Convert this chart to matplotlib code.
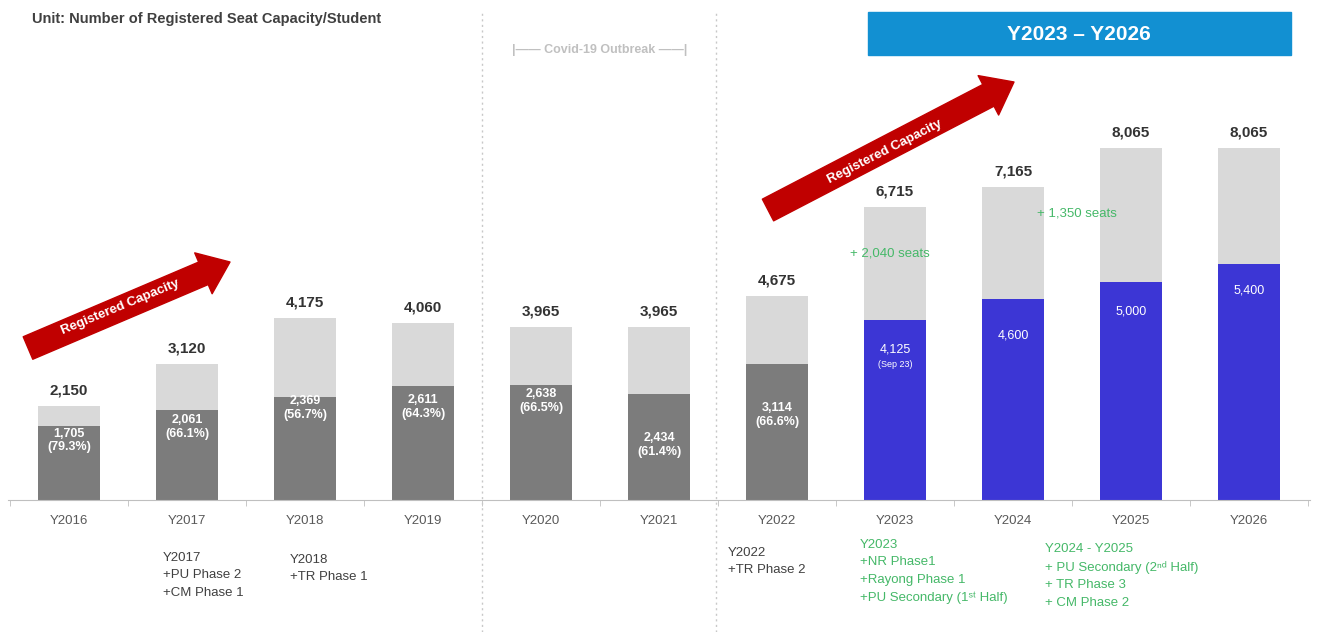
import numpy as np
import matplotlib.pyplot as plt
from matplotlib.patches import Rectangle

plt.rcParams['font.family'] = ['Liberation Sans', 'DejaVu Sans']

# data
years = ['Y2016', 'Y2017', 'Y2018', 'Y2019', 'Y2020', 'Y2021',
         'Y2022', 'Y2023', 'Y2024', 'Y2025', 'Y2026']
capacity = [2150, 3120, 4175, 4060, 3965, 3965, 4675, 6715, 7165, 8065, 8065]
students = [1705, 2061, 2369, 2611, 2638, 2434, 3114, 4125, 4600, 5000, 5400]
inner_labels = ['1,705\n(79.3%)', '2,061\n(66.1%)', '2,369\n(56.7%)', '2,611\n(64.3%)',
                '2,638\n(66.5%)', '2,434\n(61.4%)', '3,114\n(66.6%)', '4,125',
                '4,600', '5,000', '5,400']
n_actual = 7  # first 7 bars are actual (gray), rest are plan (blue)

notes_gray = [(1, 'Y2017\n+PU Phase 2\n+CM Phase 1'),
              (2, 'Y2018\n+TR Phase 1'),
              (6, 'Y2022\n+TR Phase 2')]
notes_green = [(7, 'Y2023\n+NR Phase1\n+Rayong Phase 1\n+PU Secondary (1\u02e2\u1d57 Half)'),
               (8, 'Y2024 - Y2025\n+ PU Secondary (2\u207f\u1d48 Half)\n+ TR Phase 3\n+ CM Phase 2')]
seat_adds = [(7, '+ 2,040 seats'), (8, '+ 1,350 seats')]

# layout (pixel offsets of inner labels below the top of dark segment)
label_drop = [15, 17, 11, 21, 16, 51, 51, 30, 36, 30, 26]
note_x = [163, 290, 728, 860, 1045]
note_y = [560, 562, 555, 547, 551]

LIGHT = '#d9d9d9'
DARK = '#7c7c7c'
BLUE = '#3c36d5'
GREEN = '#45b868'
RED = '#c00000'

W, H = 1317, 632
fig = plt.figure(figsize=(W / 100, H / 100), dpi=100)
ax = fig.add_axes([8 / W, (H - 500) / H, (1310 - 8) / W, 500 / H])
px_per_unit = 352 / 8065
ax.set_ylim(0, 500 / px_per_unit)
ax.set_xlim(-0.517, 10.517)

x = np.arange(len(years))
colors = [DARK] * n_actual + [BLUE] * (len(years) - n_actual)
ax.bar(x, capacity, width=0.525, color=LIGHT, zorder=1)
ax.bar(x, students, width=0.525, color=colors, zorder=2)

for i in range(len(years)):
    ax.annotate(f'{capacity[i]:,}', (x[i], capacity[i]), xytext=(0, 6),
                textcoords='offset points', ha='center', va='bottom',
                fontsize=11, fontweight='bold', color='#333333')
    ax.annotate(inner_labels[i], (x[i], students[i]), xytext=(0, -label_drop[i] * 0.72),
                textcoords='offset points', ha='center', va='center',
                fontsize=9, fontweight='bold' if i < n_actual else 'normal',
                color='white', linespacing=1.2)
ax.annotate('(Sep 23)', (x[7], students[7]), xytext=(0, -45 * 0.72),
            textcoords='offset points', ha='center', va='center',
            fontsize=6.5, color='white')

for spine in ['top', 'right', 'left']:
    ax.spines[spine].set_visible(False)
ax.spines['bottom'].set_color('#bfbfbf')
ax.set_yticks([])
ax.set_xticks(x)
ax.set_xticklabels(years, fontsize=9.5, color='#595959')
ax.tick_params(axis='x', which='major', length=0, pad=11)
ax.set_xticks(np.arange(-0.5, 10.6, 1), minor=True)
ax.tick_params(axis='x', which='minor', length=4, color='#bfbfbf')

# separators
for sx in [482, 716]:
    fig.add_artist(plt.Line2D([sx / W, sx / W], [0, 1 - 10 / H], color='#c8c8c8',
                              lw=1, ls=(0, (1.5, 2.5))))

# notes under the axis
for k, (i, txt) in enumerate(notes_gray + notes_green):
    c = '#404040' if k < len(notes_gray) else GREEN
    fig.text(note_x[k] / W, 1 - (note_y[k] - 8) / H, txt, ha='left', va='top',
             fontsize=9.5, color=c, linespacing=1.6)

# seat additions
for (i, txt), (px, py) in zip(seat_adds, [(850, 253), (1037, 214)]):
    fig.text(px / W, 1 - py / H, txt, ha='left', va='center', fontsize=9.5, color=GREEN)

# title and covid note
fig.text(32 / W, 1 - 19 / H, 'Unit: Number of Registered Seat Capacity/Student',
         ha='left', va='center', fontsize=10.5, fontweight='bold', color='#404040')
fig.text(600 / W, 1 - 50 / H, '|\u2014\u2014 Covid-19 Outbreak \u2014\u2014|', ha='center',
         va='center', fontsize=9, fontweight='bold', color='#c0c0c0')

# banner
fig.add_artist(Rectangle((868 / W, 1 - 55 / H), (1291 - 868) / W, 43 / H,
                         transform=fig.transFigure, color='#1290d2'))
fig.text(1079 / W, 1 - 34 / H, 'Y2023 \u2013 Y2026', ha='center', va='center',
         fontsize=15, fontweight='bold', color='white')

# red arrows
for tail, tip, mid, rot in [((28, 348), (230, 262), (120, 307), 22.5),
                            ((768, 210), (1014, 82), (885, 152), 27)]:
    ax.annotate('', xy=(tip[0], H - tip[1]), xytext=(tail[0], H - tail[1]),
                xycoords='figure pixels', textcoords='figure pixels',
                arrowprops=dict(arrowstyle='simple,head_length=1.3,head_width=2.0,tail_width=1.1',
                                color=RED, mutation_scale=16, shrinkA=0, shrinkB=0))
    fig.text(mid[0] / W, 1 - mid[1] / H, 'Registered Capacity', ha='center', va='center',
             rotation=rot, rotation_mode='anchor', fontsize=9.5, fontweight='bold',
             color='white')

fig.savefig('out.png', dpi=100)
